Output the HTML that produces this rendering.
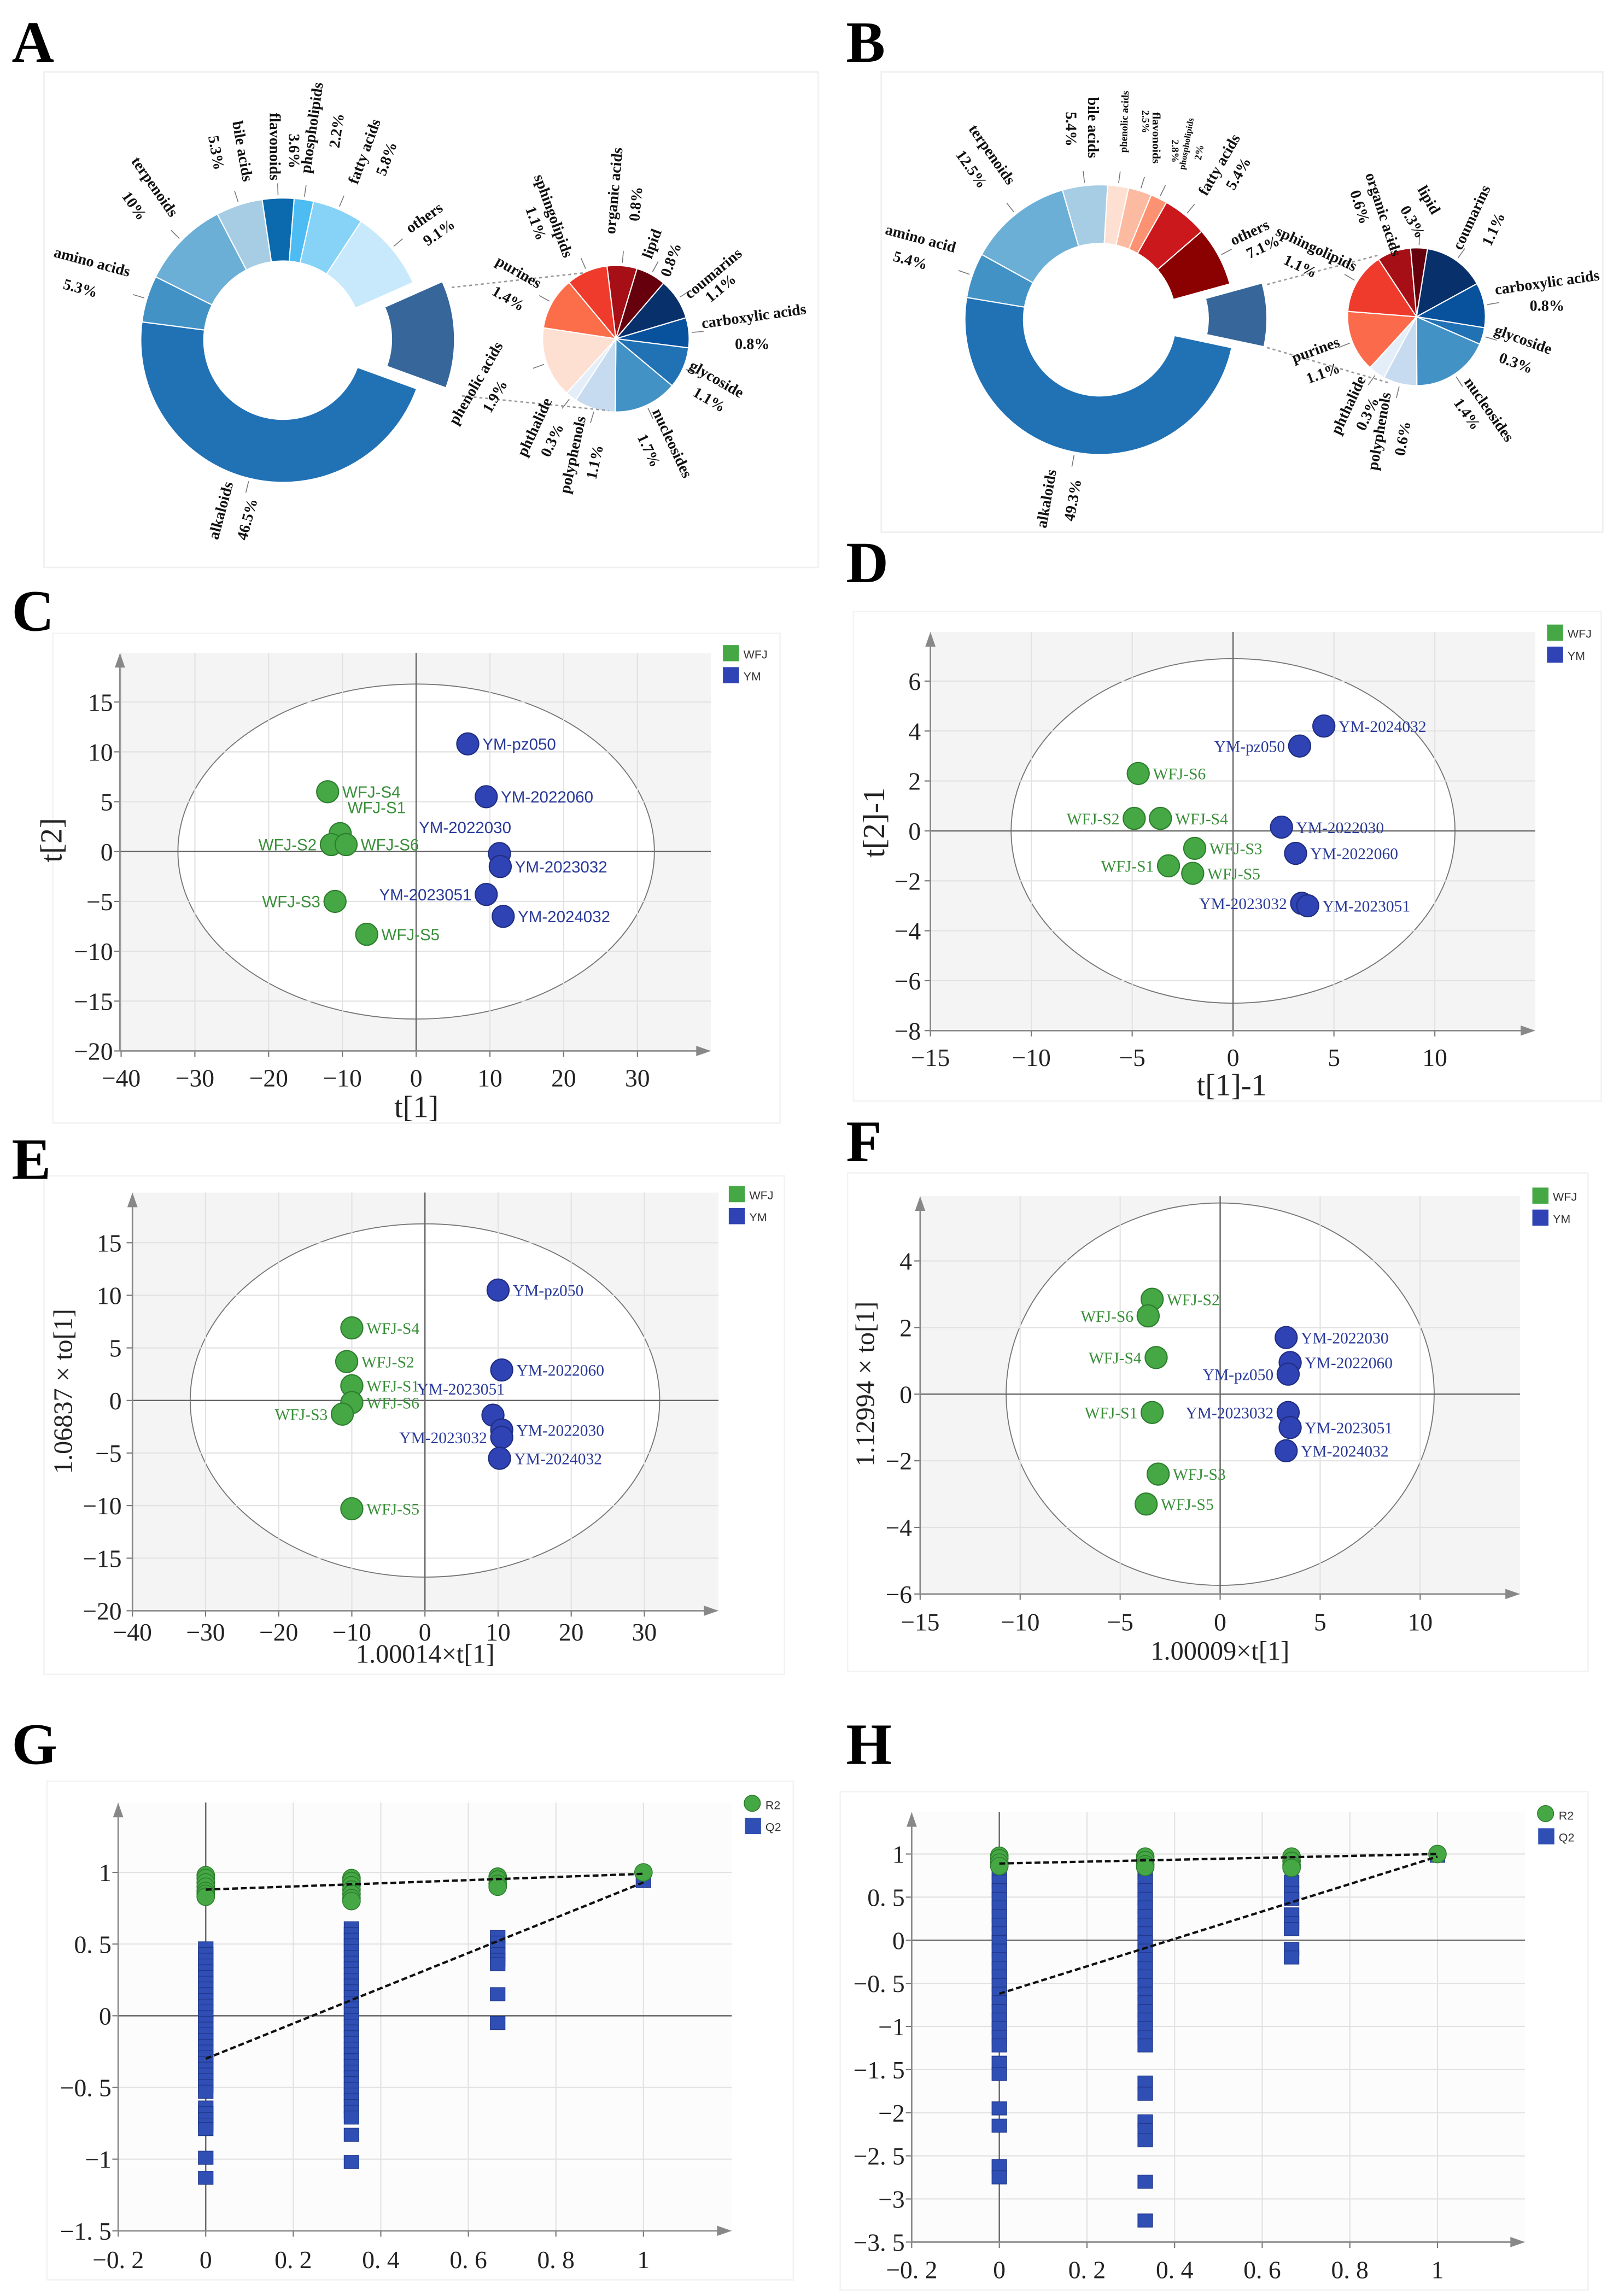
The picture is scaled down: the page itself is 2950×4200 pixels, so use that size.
<!DOCTYPE html>
<html><head><meta charset="utf-8"><title>Figure</title>
<style>
html,body{margin:0;padding:0;background:#fff;}
svg{display:block;}
.lbl{font-family:"Liberation Serif",serif;font-weight:bold;fill:#111;}
.tick{font-family:"Liberation Serif",serif;fill:#222;font-size:17px;}
.ttl{font-family:"Liberation Serif",serif;fill:#222;}
.pl{font-family:"Liberation Serif",serif;font-weight:bold;font-size:40px;fill:#000;}
</style></head>
<body>
<svg id="fig" xmlns="http://www.w3.org/2000/svg" width="2950" height="4200" viewBox="0 0 1100 1566">
<rect x="0" y="0" width="1100" height="1566" fill="#fff"/>
<!-- panel frames -->
<rect x="30" y="49" width="528" height="338" fill="none" stroke="#f0f0f0"/>
<rect x="601" y="49" width="492" height="314" fill="none" stroke="#f0f0f0"/>
<rect x="36" y="432" width="496" height="334" fill="none" stroke="#f3f3f3"/>
<rect x="582" y="417" width="510" height="334" fill="none" stroke="#f3f3f3"/>
<rect x="30" y="802" width="505" height="340" fill="none" stroke="#f3f3f3"/>
<rect x="578" y="800" width="505" height="340" fill="none" stroke="#f3f3f3"/>
<rect x="32" y="1215" width="509" height="340" fill="none" stroke="#f3f3f3"/>
<rect x="573" y="1222" width="510" height="340" fill="none" stroke="#f3f3f3"/>

<text class="pl" x="8" y="42">A</text>
<text class="pl" x="577" y="42">B</text>
<text class="pl" x="8" y="430">C</text>
<text class="pl" x="577" y="397">D</text>
<text class="pl" x="8" y="804">E</text>
<text class="pl" x="577" y="792">F</text>
<text class="pl" x="8" y="1203">G</text>
<text class="pl" x="577" y="1203">H</text>

<g id="gA"></g>
<g id="gB"></g>

<!-- A connectors -->
<line x1="308" y1="196" x2="399" y2="186" stroke="#999" stroke-dasharray="2,2"/>
<line x1="315" y1="270" x2="415" y2="280" stroke="#999" stroke-dasharray="2,2"/>
<line x1="864" y1="194" x2="940" y2="174" stroke="#999" stroke-dasharray="2,2"/>
<line x1="864" y1="237" x2="947" y2="261" stroke="#999" stroke-dasharray="2,2"/>

<!-- A labels -->
<g class="lbl" font-size="10.5" text-anchor="middle">
<text x="63" y="182" transform="rotate(15 63 178)">amino acids</text>
<text x="55" y="200" transform="rotate(15 55 196)">5.3%</text>
<text x="106" y="131" transform="rotate(55 106 127)">terpenoids</text>
<text x="92" y="144" transform="rotate(55 92 140)">10%</text>
<text x="166" y="107" transform="rotate(80 166 103)">bile acids</text>
<text x="148" y="108" transform="rotate(80 148 104)">5.3%</text>
<text x="188" y="104" transform="rotate(90 188 100)">flavonoids</text>
<text x="201" y="107" transform="rotate(90 201 103)">3.6%</text>
<text x="212" y="91" transform="rotate(-82 212 87)">phospholipids</text>
<text x="229" y="93" transform="rotate(-82 229 89)">2.2%</text>
<text x="248" y="107" transform="rotate(-70 248 103)">fatty acids</text>
<text x="263" y="112" transform="rotate(-70 263 108)">5.8%</text>
<text x="289" y="152" transform="rotate(-35 289 148)">others</text>
<text x="299" y="162" transform="rotate(-35 299 158)">9.1%</text>
<text x="324" y="265" transform="rotate(-60 324 261)">phenolic acids</text>
<text x="337" y="274" transform="rotate(-60 337 270)">1.9%</text>
<text x="150" y="352" transform="rotate(-75 150 348)">alkaloids</text>
<text x="168" y="358" transform="rotate(-75 168 354)">46.5%</text>
<text x="378" y="151" transform="rotate(70 378 147)">sphingolipids</text>
<text x="366" y="156" transform="rotate(70 366 152)">1.1%</text>
<text x="418" y="134" transform="rotate(-85 418 130)">organic acids</text>
<text x="433" y="143" transform="rotate(-85 433 139)">0.8%</text>
<text x="444" y="170" transform="rotate(-70 444 166)">lipid</text>
<text x="457" y="181" transform="rotate(-70 457 177)">0.8%</text>
<text x="486" y="190" transform="rotate(-40 486 186)">coumarins</text>
<text x="491" y="200" transform="rotate(-40 491 196)">1.1%</text>
<text x="514" y="219" transform="rotate(-8 514 215)">carboxylic acids</text>
<text x="513" y="238">0.8%</text>
<text x="489" y="262" transform="rotate(30 489 258)">glycoside</text>
<text x="484" y="276" transform="rotate(30 484 272)">1.1%</text>
<text x="459" y="306" transform="rotate(65 459 302)">nucleosides</text>
<text x="443" y="311" transform="rotate(65 443 307)">1.7%</text>
<text x="390" y="314" transform="rotate(-78 390 310)">polyphenols</text>
<text x="405" y="319" transform="rotate(-78 405 315)">1.1%</text>
<text x="364" y="295" transform="rotate(-65 364 291)">phthalide</text>
<text x="376" y="304" transform="rotate(-65 376 300)">0.3%</text>
<text x="354" y="189" transform="rotate(30 354 185)">purines</text>
<text x="347" y="207" transform="rotate(30 347 203)">1.4%</text>
</g>

<!-- B labels -->
<g class="lbl" font-size="10.5" text-anchor="middle">
<text x="628" y="166" transform="rotate(15 628 162)">amino acid</text>
<text x="621" y="181" transform="rotate(15 621 177)">5.4%</text>
<text x="677" y="109" transform="rotate(55 677 105)">terpenoids</text>
<text x="663" y="119" transform="rotate(55 663 115)">12.5%</text>
<text x="746" y="91" transform="rotate(90 746 87)">bile acids</text>
<text x="731" y="92" transform="rotate(90 731 88)">5.4%</text>
<text x="767" y="85" font-size="7" transform="rotate(-88 767 83)">phenolic acids</text>
<text x="781" y="85" font-size="7" transform="rotate(90 781 83)">2.5%</text>
<text x="789" y="97" font-size="8" transform="rotate(90 789 94)">flavonoids</text>
<text x="801" y="105" font-size="7" transform="rotate(90 801 103)">2.8%</text>
<text x="809" y="100" font-size="6" transform="rotate(-80 809 98)">phospholipids</text>
<text x="818" y="106" font-size="7" transform="rotate(-80 818 104)">2%</text>
<text x="831" y="116" transform="rotate(-60 831 112)">fatty acids</text>
<text x="844" y="122" transform="rotate(-60 844 118)">5.4%</text>
<text x="852" y="162" transform="rotate(-25 852 158)">others</text>
<text x="861" y="172" transform="rotate(-25 861 168)">7.1%</text>
<text x="898" y="173" transform="rotate(25 898 169)">sphingolipids</text>
<text x="887" y="185" transform="rotate(25 887 181)">1.1%</text>
<text x="944" y="150" transform="rotate(72 944 146)">organic acids</text>
<text x="928" y="145" transform="rotate(72 928 141)">0.6%</text>
<text x="975" y="140" transform="rotate(60 975 136)">lipid</text>
<text x="964" y="155" transform="rotate(60 964 151)">0.3%</text>
<text x="1003" y="152" transform="rotate(-65 1003 148)">coumarins</text>
<text x="1018" y="160" transform="rotate(-65 1018 156)">1.1%</text>
<text x="1055" y="196" transform="rotate(-8 1055 192)">carboxylic acids</text>
<text x="1055" y="212">0.8%</text>
<text x="1039" y="235" transform="rotate(20 1039 231)">glycoside</text>
<text x="1034" y="251" transform="rotate(20 1034 247)">0.3%</text>
<text x="1016" y="283" transform="rotate(55 1016 279)">nucleosides</text>
<text x="1001" y="286" transform="rotate(55 1001 282)">1.4%</text>
<text x="940" y="298" transform="rotate(-80 940 294)">polyphenols</text>
<text x="956" y="303" transform="rotate(-80 956 299)">0.6%</text>
<text x="919" y="280" transform="rotate(-65 919 276)">phthalide</text>
<text x="932" y="286" transform="rotate(-65 932 282)">0.3%</text>
<text x="897" y="242" transform="rotate(-20 897 238)">purines</text>
<text x="902" y="258" transform="rotate(-20 902 254)">1.1%</text>
<text x="713" y="344" transform="rotate(-80 713 340)">alkaloids</text>
<text x="731" y="345" transform="rotate(-80 731 341)">49.3%</text>
</g>

<g id="gC"></g>
<g id="gD"></g>
<g id="gE"></g>
<g id="gF"></g>
<g id="gG"></g>
<g id="gH"></g>

<!-- axis titles -->
<text class="ttl" font-size="21" x="284" y="762" text-anchor="middle">t[1]</text>
<text class="ttl" font-size="21" x="49" y="580" text-anchor="middle" transform="rotate(-90 42 580)">t[2]</text>
<text class="ttl" font-size="21" x="840" y="747" text-anchor="middle">t[1]-1</text>
<text class="ttl" font-size="21" x="610" y="568" text-anchor="middle" transform="rotate(-90 603 568)">t[2]-1</text>
<text class="ttl" font-size="18" x="290" y="1134" text-anchor="middle">1.00014×t[1]</text>
<text class="ttl" font-size="18" x="55" y="955" text-anchor="middle" transform="rotate(-90 49 955)">1.06837 × to[1]</text>
<text class="ttl" font-size="18" x="832" y="1132" text-anchor="middle">1.00009×t[1]</text>
<text class="ttl" font-size="18" x="602" y="950" text-anchor="middle" transform="rotate(-90 596 950)">1.12994 × to[1]</text>
</svg>

<script>
const NS='http://www.w3.org/2000/svg';
function make(tag, attrs, parent){const e=document.createElementNS(NS,tag);for(const k in attrs){e.setAttribute(k,attrs[k]);}parent.appendChild(e);return e;}

/* ---------- donut / pie data ---------- */
const donutANames=['alkaloids','amino acids','terpenoids','bile acids','flavonoids','phospholipids','fatty acids','others','phenolic acids'];
const donutAValues=[46.5,5.3,10,5.3,3.6,2.2,5.8,9.1,12.2];
const donutAColors=['#2171b5','#4292c6','#6baed6','#a6cde4','#0a6aad','#4cbcf2','#86d3f7','#c7e9fb','#36669a'];
const pieANames=['organic acids','lipid','coumarins','carboxylic acids','glycoside','nucleosides','polyphenols','phthalide','phenolic acids','purines','sphingolipids'];
const pieAValues=[0.8,0.8,1.1,0.8,1.1,1.7,1.1,0.3,1.9,1.4,1.1];
const pieAColors=['#a50f15','#67000d','#08306b','#08519c','#2171b5','#4292c6','#c6dbef','#e4eef9','#fee0d2','#fc6d4a','#ef3b2c'];

const donutBNames=['alkaloids','amino acid','terpenoids','bile acids','phenolic acids','flavonoids','phospholipids','fatty acids','others','sub-classes'];
const donutBValues=[49.3,5.4,12.5,5.4,2.5,2.8,2.0,5.4,7.1,7.6];
const donutBColors=['#2171b5','#4292c6','#6baed6','#a6cde4','#fee0d2','#fcbba1','#fc9272','#cb181d','#8b0000','#36669a'];
const pieBNames=['lipid','coumarins','carboxylic acids','glycoside','nucleosides','polyphenols','phthalide','purines','sphingolipids','organic acids'];
const pieBValues=[0.3,1.1,0.8,0.3,1.4,0.6,0.3,1.1,1.1,0.6];
const pieBColors=['#67000d','#08306b','#08519c','#2171b5','#4292c6','#c6dbef','#e4eef9','#fb6a4a','#ef3b2c','#a50f15'];

function pt(cx,cy,r,a){const t=a*Math.PI/180;return [cx+r*Math.cos(t),cy+r*Math.sin(t)];}
function sectorPath(cx,cy,r0,r1,a0,a1){
  const large=(a1-a0)>180?1:0;
  const p1=pt(cx,cy,r1,a0),p2=pt(cx,cy,r1,a1);
  if(r0<=0){return 'M'+cx+','+cy+' L'+p1[0]+','+p1[1]+' A'+r1+','+r1+' 0 '+large+' 1 '+p2[0]+','+p2[1]+' Z';}
  const p3=pt(cx,cy,r0,a1),p4=pt(cx,cy,r0,a0);
  return 'M'+p1[0]+','+p1[1]+' A'+r1+','+r1+' 0 '+large+' 1 '+p2[0]+','+p2[1]+' L'+p3[0]+','+p3[1]+' A'+r0+','+r0+' 0 '+large+' 0 '+p4[0]+','+p4[1]+' Z';
}
function drawRing(g,cx,cy,r0,r1,start,values,colors,names,explodeLast,offset){
  const total=values.reduce((a,b)=>a+b,0);
  let a=start;
  values.forEach((v,i)=>{
    const span=v/total*360;
    let ox=0,oy=0;
    if(explodeLast&&i===values.length-1){const m=pt(0,0,offset,a+span/2);ox=m[0];oy=m[1];}
    const p=make('path',{d:sectorPath(cx+ox,cy+oy,r0,r1,a,a+span),fill:colors[i],stroke:'#fff','stroke-width':0.8},g);
    
    
    if(!(explodeLast&&i===values.length-1)){
      const q1=pt(cx,cy,r1+2,a+span/2),q2=pt(cx,cy,r1+10,a+span/2);
      const ln=make('line',{x1:q1[0],y1:q1[1],x2:q2[0],y2:q2[1],stroke:'#777','stroke-width':0.6},g);
      
      
    }
    a+=span;
  });
}
drawRing(document.getElementById('gA'),193,232,54,97,20,donutAValues,donutAColors,donutANames,true,20);
drawRing(document.getElementById('gA'),420,231,0,50,-97,pieAValues,pieAColors,pieANames,false,0);
drawRing(document.getElementById('gB'),750,218,52,92,12,donutBValues,donutBColors,donutBNames,true,22);
drawRing(document.getElementById('gB'),966,216,0,47,-95,pieBValues,pieBColors,pieBNames,false,0);

/* ---------- score plot data ---------- */
const cNames=['WFJ-S4','WFJ-S1','WFJ-S2','WFJ-S6','WFJ-S3','WFJ-S5','YM-pz050','YM-2022060','YM-2022030','YM-2023032','YM-2023051','YM-2024032'];
const cX=[-12,-10.3,-11.5,-9.5,-11,-6.7,7,9.5,11.3,11.4,9.5,11.8];
const cY=[6,1.8,0.7,0.7,-5,-8.3,10.8,5.5,-0.2,-1.5,-4.3,-6.5];
const cSide=['r','tr','l','r','l','r','r','r','tl','r','l','r'];
const cXTicks=[-40,-30,-20,-10,0,10,20,30];
const cXTickLabels=['−40','−30','−20','−10','0','10','20','30'];
const cYTicks=[-20,-15,-10,-5,0,5,10,15];
const cYTickLabels=['−20','−15','−10','−5','0','5','10','15'];

const dNames=['WFJ-S6','WFJ-S2','WFJ-S4','WFJ-S3','WFJ-S1','WFJ-S5','YM-2024032','YM-pz050','YM-2022030','YM-2022060','YM-2023032','YM-2023051'];
const dX=[-4.7,-4.9,-3.6,-1.9,-3.2,-2.0,4.5,3.3,2.4,3.1,3.4,3.7];
const dY=[2.3,0.5,0.5,-0.7,-1.4,-1.7,4.2,3.4,0.15,-0.9,-2.9,-3.0];
const dSide=['r','l','r','r','l','r','r','l','r','r','l','r'];
const dXTicks=[-15,-10,-5,0,5,10];
const dXTickLabels=['−15','−10','−5','0','5','10'];
const dYTicks=[-8,-6,-4,-2,0,2,4,6];
const dYTickLabels=['−8','−6','−4','−2','0','2','4','6'];

const eNames=['WFJ-S4','WFJ-S2','WFJ-S1','WFJ-S6','WFJ-S3','WFJ-S5','YM-pz050','YM-2022060','YM-2023051','YM-2022030','YM-2023032','YM-2024032'];
const eX=[-10,-10.7,-10,-10,-11.3,-10,10,10.5,9.3,10.5,10.5,10.2];
const eY=[6.9,3.7,1.4,-0.2,-1.3,-10.3,10.5,2.9,-1.4,-2.8,-3.5,-5.5];
const eSide=['r','r','r','r','l','r','r','r','tl','r','l','r'];
const eXTicks=[-40,-30,-20,-10,0,10,20,30];
const eXTickLabels=['−40','−30','−20','−10','0','10','20','30'];
const eYTicks=[-20,-15,-10,-5,0,5,10,15];
const eYTickLabels=['−20','−15','−10','−5','0','5','10','15'];

const fNames=['WFJ-S2','WFJ-S6','WFJ-S4','WFJ-S1','WFJ-S3','WFJ-S5','YM-2022030','YM-2022060','YM-pz050','YM-2023032','YM-2023051','YM-2024032'];
const fX=[-3.4,-3.6,-3.2,-3.4,-3.1,-3.7,3.3,3.5,3.4,3.4,3.5,3.3];
const fY=[2.85,2.35,1.1,-0.55,-2.4,-3.3,1.7,0.95,0.6,-0.55,-1.0,-1.7];
const fSide=['r','l','l','l','r','r','r','r','l','l','r','r'];
const fXTicks=[-15,-10,-5,0,5,10];
const fXTickLabels=['−15','−10','−5','0','5','10'];
const fYTicks=[-6,-4,-2,0,2,4];
const fYTickLabels=['−6','−4','−2','0','2','4'];

/* ---------- permutation data ---------- */
const gR2X=[0,0,0,0,0,0,0,0.333,0.333,0.333,0.333,0.333,0.333,0.333,0.667,0.667,0.667,0.667,1];
const gR2Y=[0.98,0.96,0.93,0.9,0.87,0.85,0.83,0.96,0.94,0.91,0.88,0.85,0.82,0.8,0.97,0.95,0.92,0.9,1.0];
const gQ2X0=[0.47,0.43,0.39,0.35,0.31,0.27,0.23,0.19,0.15,0.11,0.07,0.03,-0.01,-0.05,-0.09,-0.13,-0.17,-0.21,-0.25,-0.29,-0.33,-0.37,-0.41,-0.45,-0.49,-0.53,-0.64,-0.68,-0.72,-0.76,-0.79,-0.99,-1.13];
const gQ2X1=[0.61,0.57,0.53,0.49,0.45,0.41,0.37,0.33,0.29,0.25,0.21,0.17,0.13,0.09,0.05,0.01,-0.03,-0.07,-0.11,-0.15,-0.19,-0.23,-0.27,-0.31,-0.35,-0.39,-0.43,-0.47,-0.51,-0.55,-0.59,-0.63,-0.67,-0.71,-0.83,-1.02];
const gQ2X2=[0.55,0.51,0.47,0.43,0.39,0.36,0.15,-0.05];
const gQ2X3=[0.94];
const gR2Line=[0.88,0.99];
const gQ2Line=[-0.3,0.93];
const gXTicks=[-0.2,0,0.2,0.4,0.6,0.8,1];
const gXTickLabels=['−0. 2','0','0. 2','0. 4','0. 6','0. 8','1'];
const gYTicks=[-1.5,-1,-0.5,0,0.5,1];
const gYTickLabels=['−1. 5','−1','−0. 5','0','0. 5','1'];

const hR2X=[0,0,0,0,0.333,0.333,0.333,0.333,0.667,0.667,0.667,0.667,1];
const hR2Y=[0.98,0.95,0.9,0.86,0.97,0.93,0.88,0.85,0.97,0.92,0.87,0.84,1.0];
const hQ2X0=[0.78,0.68,0.58,0.48,0.38,0.28,0.18,0.08,-0.02,-0.12,-0.22,-0.32,-0.42,-0.52,-0.62,-0.72,-0.82,-0.92,-1.02,-1.12,-1.22,-1.42,-1.55,-1.95,-2.15,-2.62,-2.75];
const hQ2X1=[0.78,0.68,0.58,0.48,0.38,0.28,0.18,0.08,-0.02,-0.12,-0.22,-0.32,-0.42,-0.52,-0.62,-0.72,-0.82,-0.92,-1.02,-1.12,-1.22,-1.65,-1.78,-2.1,-2.2,-2.32,-2.8,-3.25];
const hQ2X2=[0.68,0.55,0.48,0.3,0.2,0.13,-0.1,-0.2];
const hQ2X3=[0.98];
const hR2Line=[0.89,1.0];
const hQ2Line=[-0.62,0.97];
const hXTicks=[-0.2,0,0.2,0.4,0.6,0.8,1];
const hXTickLabels=['−0. 2','0','0. 2','0. 4','0. 6','0. 8','1'];
const hYTicks=[-3.5,-3,-2.5,-2,-1.5,-1,-0.5,0,0.5,1];
const hYTickLabels=['−3. 5','−3','−2. 5','−2','−1. 5','−1','−0. 5','0','0. 5','1'];

/* ---------- axes ---------- */
function makeScale(p0,k){return v=>p0+v*k;}
function drawFrame(g,sx,sy,m){
  const bg=make('rect',{x:m.left,y:m.top,width:m.right-m.left,height:m.bottom-m.top,fill:m.bg},g);
  
  
  if(m.ell){
    const el=make('ellipse',{cx:sx(0),cy:sy(0),rx:Math.abs(sx(m.ell[0])-sx(0)),ry:Math.abs(sy(m.ell[1])-sy(0)),fill:'#fff',stroke:'#777','stroke-width':0.7},g);
    
    
  }
  m.xt.forEach((v,i)=>{
    const x=sx(v);
    const gl=make('line',{x1:x,y1:m.top,x2:x,y2:m.bottom,stroke:'#e2e2e2','stroke-width':0.8},g);
    
    
    const tk=make('line',{x1:x,y1:m.bottom,x2:x,y2:m.bottom+4,stroke:'#777','stroke-width':0.8},g);
    
    
    const t=make('text',{x:x,y:m.xly,'text-anchor':'middle',class:'tick'},g);
    t.textContent=m.xl[i];
    
    
  });
  m.yt.forEach((v,i)=>{
    const y=sy(v);
    const gl=make('line',{x1:m.left,y1:y,x2:m.right,y2:y,stroke:'#e2e2e2','stroke-width':0.8},g);
    
    
    const tk=make('line',{x1:m.left-4,y1:y,x2:m.left,y2:y,stroke:'#777','stroke-width':0.8},g);
    
    
    const t=make('text',{x:m.ylx,y:y+6,'text-anchor':'end',class:'tick'},g);
    t.textContent=m.yl[i];
    
    
  });
  const z1=make('line',{x1:sx(0),y1:m.top,x2:sx(0),y2:m.bottom,stroke:'#666','stroke-width':0.9},g);
  
  
  const z2=make('line',{x1:m.left,y1:sy(0),x2:m.right,y2:sy(0),stroke:'#666','stroke-width':0.9},g);
  
  
  const ax=make('line',{x1:m.left,y1:m.bottom,x2:m.right-6,y2:m.bottom,stroke:'#888','stroke-width':1},g);
  
  
  const ay=make('line',{x1:m.left,y1:m.bottom,x2:m.left,y2:m.top+6,stroke:'#888','stroke-width':1},g);
  
  
  const a1=make('path',{d:'M'+m.right+','+m.bottom+' l-10,-3.5 l0,7 Z',fill:'#888'},g);
  
  
  const a2=make('path',{d:'M'+m.left+','+m.top+' l-3.5,10 l7,0 Z',fill:'#888'},g);
  
  
}
function drawLegend(g,x,y,items,shapes){
  items.forEach((it,i)=>{
    const yy=y+i*15;
    let s;
    if(shapes[i]==='c'){s=make('circle',{cx:x+5,cy:yy+5,r:5.5,fill:it.c,stroke:'#2d7d2d','stroke-width':0.6},g);}
    else{s=make('rect',{x:x,y:yy,width:11,height:11,fill:it.c},g);}
    
    
    const t=make('text',{x:x+14,y:yy+9,'font-family':'Liberation Sans, sans-serif','font-size':8,fill:'#333'},g);
    t.textContent=it.t;
    
    
  });
}
function drawScatter(g,sx,sy,names,xs,ys,sides,font){
  names.forEach((n,i)=>{
    const wfj=n.indexOf('WFJ')===0;
    const x=sx(xs[i]),y=sy(ys[i]);
    const c=make('circle',{cx:x,cy:y,r:7.5,fill:wfj?'#45a845':'#2f43b5',stroke:wfj?'#2d7d2d':'#1f2d80','stroke-width':0.8},g);
    
    
    const s=sides[i];
    let tx=x+10,ty=y+4,anc='start';
    if(s==='l'){tx=x-10;anc='end';}
    if(s==='tr'){tx=x+5;ty=y-14;anc='start';}
    if(s==='tl'){tx=x+8;ty=y-14;anc='end';}
    const t=make('text',{x:tx,y:ty,'text-anchor':anc,'font-family':font,'font-size':11,fill:wfj?'#3a8f3a':'#2a3a9a'},g);
    t.textContent=n;
    
    
  });
}
const leg=[{t:'WFJ',c:'#45a845'},{t:'YM',c:'#2f43b5'}];

// C
(function(){const g=document.getElementById('gC');const sx=makeScale(283.8,5.03),sy=makeScale(580.8,-6.8);
drawFrame(g,sx,sy,{left:81.8,right:484.8,top:445.3,bottom:sy(-20),bg:'#f4f4f4',ell:[32.3,16.8],xt:cXTicks,xl:cXTickLabels,yt:cYTicks,yl:cYTickLabels,xly:741,ylx:77});
drawScatter(g,sx,sy,cNames,cX,cY,cSide,'Liberation Sans, sans-serif');drawLegend(g,493,440,leg,['s','s']);})();
// D
(function(){const g=document.getElementById('gD');const sx=makeScale(840.9,13.76),sy=makeScale(566.7,-17.03);
drawFrame(g,sx,sy,{left:sx(-15),right:1047,top:431,bottom:sy(-8),bg:'#f4f4f4',ell:[11.0,6.9],xt:dXTicks,xl:dXTickLabels,yt:dYTicks,yl:dYTickLabels,xly:727,ylx:628});
drawScatter(g,sx,sy,dNames,dX,dY,dSide,'Liberation Serif, serif');drawLegend(g,1055,426,leg,['s','s']);})();
// E
(function(){const g=document.getElementById('gE');const sx=makeScale(289.8,4.987),sy=makeScale(955.2,-7.172);
drawFrame(g,sx,sy,{left:sx(-40),right:490,top:813.4,bottom:sy(-20),bg:'#f4f4f4',ell:[32.1,16.8],xt:eXTicks,xl:eXTickLabels,yt:eYTicks,yl:eYTickLabels,xly:1119,ylx:83});
drawScatter(g,sx,sy,eNames,eX,eY,eSide,'Liberation Serif, serif');drawLegend(g,497,809,leg,['s','s']);})();
// F
(function(){const g=document.getElementById('gF');const sx=makeScale(832.1,13.64),sy=makeScale(950.9,-22.72);
drawFrame(g,sx,sy,{left:sx(-15),right:1036.6,top:815.9,bottom:sy(-6),bg:'#f4f4f4',ell:[10.7,5.74],xt:fXTicks,xl:fXTickLabels,yt:fYTicks,yl:fYTickLabels,xly:1112,ylx:622});
drawScatter(g,sx,sy,fNames,fX,fY,fSide,'Liberation Serif, serif');drawLegend(g,1045,810,leg,['s','s']);})();

function drawPerm(g,sx,sy,r2x,r2y,q2cols,r2line,q2line){
  const xsCols=[0,0.333,0.667,1];
  q2cols.forEach((col,ci)=>{
    col.forEach(v=>{
      const r=make('rect',{x:sx(xsCols[ci])-5,y:sy(v)-4.5,width:10,height:9,fill:'#2f4fb5',stroke:'#22388a','stroke-width':0.5},g);
      
      
    });
  });
  r2x.forEach((x,i)=>{
    const c=make('circle',{cx:sx(x),cy:sy(r2y[i]),r:6,fill:'#45a845',stroke:'#2d7d2d','stroke-width':0.6},g);
    
    
  });
  const l1=make('line',{x1:sx(0),y1:sy(r2line[0]),x2:sx(1),y2:sy(r2line[1]),stroke:'#111','stroke-width':1.6,'stroke-dasharray':'4,2'},g);
  
  
  const l2=make('line',{x1:sx(0),y1:sy(q2line[0]),x2:sx(1),y2:sy(q2line[1]),stroke:'#111','stroke-width':1.6,'stroke-dasharray':'4,2'},g);
  
  
}
// G
(function(){const g=document.getElementById('gG');const sx=makeScale(140.3,298.5),sy=makeScale(1374.9,-97.8);
drawFrame(g,sx,sy,{left:sx(-0.2),right:499,top:1229.5,bottom:sy(-1.5),bg:'#fcfcfc',xt:gXTicks,xl:gXTickLabels,yt:gYTicks,yl:gYTickLabels,xly:1547,ylx:76});
drawPerm(g,sx,sy,gR2X,gR2Y,[gQ2X0,gQ2X1,gQ2X2,gQ2X3],gR2Line,gQ2Line);
drawLegend(g,508,1225,[{t:'R2',c:'#45a845'},{t:'Q2',c:'#2f4fb5'}],['c','s']);})();
// H
(function(){const g=document.getElementById('gH');const sx=makeScale(681.5,298.8),sy=makeScale(1323.4,-58.82);
drawFrame(g,sx,sy,{left:sx(-0.2),right:1040,top:1236,bottom:sy(-3.5),bg:'#fcfcfc',xt:hXTicks,xl:hXTickLabels,yt:hYTicks,yl:hYTickLabels,xly:1554,ylx:617});
drawPerm(g,sx,sy,hR2X,hR2Y,[hQ2X0,hQ2X1,hQ2X2,hQ2X3],hR2Line,hQ2Line);
drawLegend(g,1049,1232,[{t:'R2',c:'#45a845'},{t:'Q2',c:'#2f4fb5'}],['c','s']);})();
</script>
</body></html>
